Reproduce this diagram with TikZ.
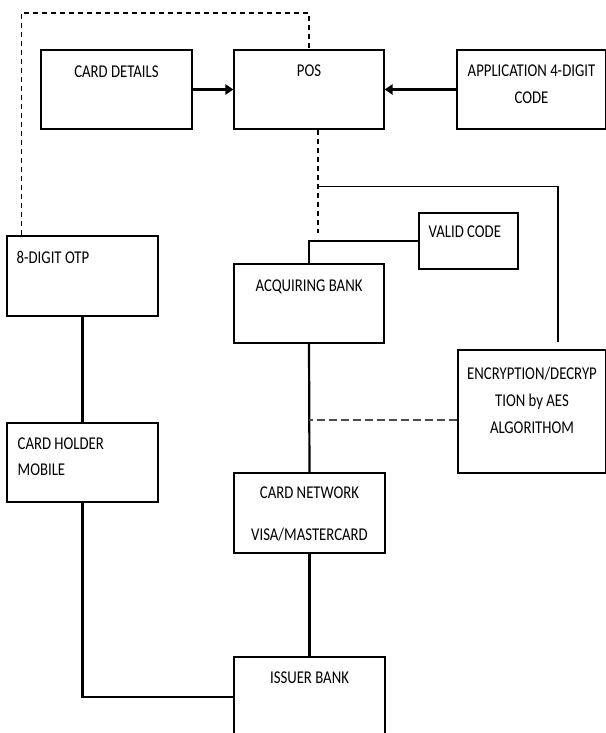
\documentclass[tikz,border=0pt]{standalone}
\usepackage{fontspec}
\setmainfont{Carlito}[FakeStretch=0.82]
\usetikzlibrary{calc,arrows.meta}

\tikzset{
    blk/.style 2 args={draw, line width=1.1pt, inner sep=0pt, minimum width=#1pt, minimum height=#2pt},
    txt/.style={anchor=north, inner sep=0pt, align=center, font=\fontsize{18}{27}\selectfont},
    txtl/.style={txt, anchor=north west, align=left},
    arr/.style={line width=2.6pt, -{Triangle[length=8pt,width=10pt]}},
    heavy/.style={line width=2.2pt},
    fine/.style={line width=1.1pt},
    dsh/.style={line width=1.1pt, dash pattern=on 5pt off 4pt},
    gdash/.style={line width=2pt, black!70, dash pattern=on 8pt off 4pt}
}

\begin{document}
\begin{tikzpicture}[x=1pt, y=-1pt]
            \useasboundingbox (0,0) rectangle (605,733);

            \node (det) at (116.5,89.5) [blk={151}{79}, label={[txt, yshift=-16pt]north:CARD DETAILS}] {};
            \node (pos) at (309,89.5) [blk={150}{79}, label={[txt, yshift=-15pt]north:POS}] {};
            \node (app) at (531.5,89.5) [blk={149}{79}, label={[txt, yshift=-15pt]north:{APPLICATION 4-DIGIT\\CODE}}] {};
            \node (otp) at (82.5,276) [blk={151}{80}, label={[txtl, xshift=10pt, yshift=-16pt]north west:8-DIGIT OTP}] {};
            \node (valid) at (468.5,241) [blk={99}{56}, label={[txtl, xshift=10pt, yshift=-13pt]north west:VALID CODE}] {};
            \node (acq) at (309,303.5) [blk={150}{79}, label={[txt, yshift=-16pt]north:ACQUIRING BANK}] {};
            \node (enc) at (532,411.5) [blk={148}{123}, label={[txt, yshift=-17pt]north:{ENCRYPTION/DECRYP\\TION by AES\\ALGORITHOM}}] {};
            \node (hold) at (82.5,462.5) [blk={151}{79}, label={[txtl, xshift=11pt, yshift=-15pt]north west:{CARD HOLDER\\[-1pt]MOBILE}}] {};
            \node (net) at (309.5,513) [blk={151}{80}, label={[txt, yshift=-14pt]north:{CARD NETWORK\\[15pt]VISA/MASTERCARD}}] {};
            \node (iss) at (309.5,697) [blk={151}{80}, label={[txt, yshift=-15pt]north:ISSUER BANK}] {};

            \coordinate (lt) at ($(otp.north west)+(15,0)$);
            \coordinate (dtop) at (309,13);
            \coordinate (pb) at ($(pos.south)+(9,0)$);
            \coordinate (br) at ($(pb)+(0,57)$);
            \coordinate (el) at ($(enc.west)+(0,8.5)$);

            \draw [arr] (det) -- (pos);
            \draw [arr] (app) -- (pos);
            \draw [dsh] (lt) |- (dtop) -- (pos.north);
            \draw [dsh] (pb) -- ++(0,103);
            \draw [fine] (br) -| ($(enc.north)+(26,-7)$);
            \draw [heavy] (valid.west) -| (acq.north);
            \draw [heavy] (acq.south) -- (net.north);
            \draw [gdash] (el) -- (acq.south |- el);
            \draw [heavy] (otp) -- (hold);
            \draw [heavy] (hold.south) |- (iss.west);
            \draw [heavy] (net) -- (iss);

        \end{tikzpicture}
\end{document}
